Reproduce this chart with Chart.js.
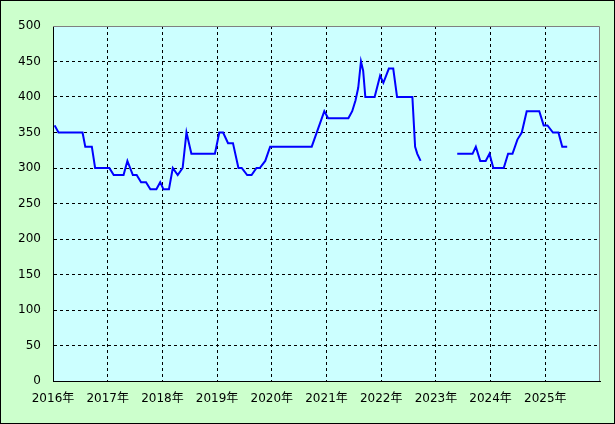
<!DOCTYPE html>
<html>
<head>
<meta charset="utf-8">
<script src="https://cdn.jsdelivr.net/npm/chart.js@4"></script>
<style>
  html, body { margin: 0; padding: 0; background: #ccffcc; }
  #wrap { width: 615px; height: 424px; }
</style>
</head>
<body>
<div id="wrap"><canvas id="priceChart" width="615" height="424"></canvas></div>
<script>
// data (x = decimal year, null = gap)
const dates = [
  2016.03, 2016.10, 2016.54, 2016.59, 2016.71, 2016.77, 2017.03, 2017.11, 2017.29, 2017.36,
  2017.46, 2017.53, 2017.61, 2017.70, 2017.78, 2017.89, 2017.96, 2018.02, 2018.12, 2018.19,
  2018.28, 2018.37, 2018.44, 2018.53, 2018.96, 2019.04, 2019.11, 2019.20, 2019.29, 2019.39,
  2019.45, 2019.55, 2019.63, 2019.72, 2019.78, 2019.88, 2019.97, 2020.73, 2020.96, 2021.03,
  2021.40, 2021.47, 2021.53, 2021.58, 2021.63, 2021.67, 2021.71, 2021.88, 2021.98, 2022.04,
  2022.14, 2022.22, 2022.29, 2022.57, 2022.62, 2022.66, 2022.72,
  2023.00,
  2023.39, 2023.67, 2023.73, 2023.81, 2023.91, 2023.98, 2024.05, 2024.24, 2024.32, 2024.40,
  2024.49, 2024.57, 2024.66, 2024.89, 2024.97, 2025.04, 2025.14, 2025.24, 2025.31, 2025.40
];
const prices = [
  360, 350, 350, 330, 330, 300, 300, 290, 290, 310,
  290, 290, 280, 280, 270, 270, 280, 270, 270, 300,
  290, 300, 350, 320, 320, 350, 350, 335, 335, 300,
  300, 290, 290, 300, 300, 310, 330, 330, 380, 370,
  370, 380, 395, 413, 450, 437, 400, 400, 430, 420,
  440, 440, 400, 400, 330, 320, 310,
  null,
  320, 320, 330, 310, 310, 320, 300, 300, 320, 320,
  340, 350, 380, 380, 360, 360, 350, 350, 330, 330
];
const yearTicks = [2016, 2017, 2018, 2019, 2020, 2021, 2022, 2023, 2024, 2025];

const points = dates.map((d, i) => ({ x: d, y: prices[i] }));

const bgPlugin = {
  id: 'bg',
  beforeDraw(chart) {
    const { ctx, chartArea: a } = chart;
    ctx.save();
    ctx.fillStyle = '#ccffcc';
    ctx.fillRect(0, 0, chart.width, chart.height);
    ctx.strokeStyle = '#000';
    ctx.lineWidth = 1;
    ctx.strokeRect(0.5, 0.5, chart.width - 1, chart.height - 1);
    ctx.fillStyle = '#ccffff';
    ctx.fillRect(a.left, a.top, a.right - a.left, a.bottom - a.top);
    ctx.restore();
  },
  beforeDatasetsDraw(chart) {
    const { ctx, chartArea: a } = chart;
    ctx.save();
    ctx.strokeStyle = '#808080';
    ctx.lineWidth = 1;
    ctx.beginPath();
    ctx.moveTo(a.left, a.top + 0.5);
    ctx.lineTo(a.right - 0.5, a.top + 0.5);
    ctx.lineTo(a.right - 0.5, a.bottom);
    ctx.stroke();
    ctx.restore();
  }
};

const font = { family: "'DejaVu Sans', 'Noto Sans CJK JP', sans-serif", size: 12 };

const ctx = document.getElementById('priceChart').getContext('2d');
const priceChart = new Chart(ctx, {
  type: 'line',
  data: {
    datasets: [{
      data: points,
      borderColor: '#0000ff',
      borderWidth: 2,
      pointRadius: 0,
      tension: 0,
      spanGaps: false,
      fill: false
    }]
  },
  options: {
    responsive: false,
    animation: false,
    layout: { padding: { left: 0, top: 26, right: 15, bottom: 0 } },
    plugins: { legend: { display: false }, tooltip: { enabled: false } },
    scales: {
      x: {
        type: 'linear',
        min: 2016,
        max: 2026,
        afterFit: s => { s.height = 43; },
        afterBuildTicks: s => { s.ticks = yearTicks.concat([2026]).map(v => ({ value: v })); },
        ticks: {
          color: '#000',
          font: font,
          padding: 11,
          maxRotation: 0,
          autoSkip: false,
          callback: v => (yearTicks.includes(v) ? v + '年' : '')
        },
        grid: {
          drawTicks: false,
          color: c => (c.tick && (c.tick.value === 2016 || c.tick.value === 2026) ? 'rgba(0,0,0,0)' : '#000'),
          lineWidth: 1
        },
        border: { display: true, color: '#000', width: 1, dash: [3, 3] }
      },
      y: {
        min: 0,
        max: 500,
        afterFit: s => { s.width = 53; },
        ticks: { stepSize: 50, color: '#000', font: font, padding: 12 },
        grid: {
          drawTicks: false,
          color: c => (c.tick && (c.tick.value === 0 || c.tick.value === 500) ? 'rgba(0,0,0,0)' : '#000'),
          lineWidth: 1
        },
        border: { display: true, color: '#000', width: 1, dash: [3, 3] }
      }
    }
  },
  plugins: [bgPlugin]
});
</script>
</body>
</html>
